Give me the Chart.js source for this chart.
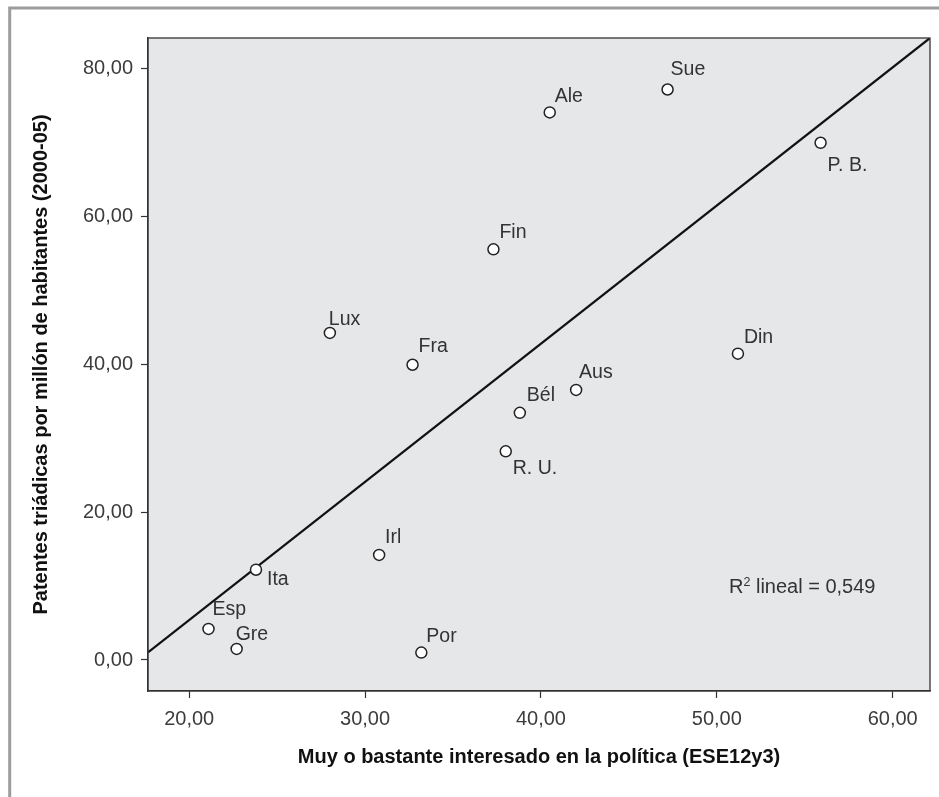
<!DOCTYPE html>
<html>
<head>
<meta charset="utf-8">
<script src="https://cdn.jsdelivr.net/npm/chart.js@4.4.1/dist/chart.umd.min.js"></script>
<style>
  html, body { margin: 0; padding: 0; background: #fff; }
</style>
</head>
<body>
<canvas id="scatterChart" width="939" height="797"></canvas>
<script>
// Data
const countries = ['Ale', 'Sue', 'P. B.', 'Fin', 'Lux', 'Fra', 'Din', 'Aus', 'Bél', 'R. U.', 'Irl', 'Por', 'Ita', 'Esp', 'Gre'];
const interest = [40.5, 47.2, 55.9, 37.3, 28.0, 32.7, 51.2, 42.0, 38.8, 38.0, 30.8, 33.2, 23.8, 21.1, 22.7];
const patents = [74.0, 77.1, 69.9, 55.5, 44.2, 39.9, 41.4, 36.5, 33.4, 28.2, 14.2, 1.0, 12.2, 4.2, 1.5];
// fitted line, ends at the edges of the plot
const fitX = [17.66, 62.12];
const fitY = [1.04, 84.06];
const xTicks = [20, 30, 40, 50, 60];
const yTicks = [0, 20, 40, 60, 80];
const rSquared = '0,549';

// label placement relative to the marker (dx, baseline dy)
const labelOffsets = {
    'Ale': [5, -10], 'Sue': [3, -15], 'P. B.': [7, 28], 'Fin': [6, -11], 'Lux': [-1, -8],
    'Fra': [6, -13], 'Din': [6, -11], 'Aus': [3, -12], 'Bél': [7, -12], 'R. U.': [7, 23],
    'Irl': [6, -12], 'Por': [5, -11], 'Ita': [11, 15], 'Esp': [4, -14], 'Gre': [-1, -9]
};

const FONT = "'Liberation Sans', Arial, Helvetica, sans-serif";
const fmt = v => Number(v).toFixed(2).replace('.', ',');

const decor = {
    id: 'decor',
    beforeDraw(chart) {
        const { ctx, chartArea: a } = chart;
        ctx.save();
        ctx.fillStyle = '#fff';
        ctx.fillRect(0, 0, chart.width, chart.height);
        // outer frame (open on right and bottom)
        ctx.strokeStyle = '#9c9c9c';
        ctx.lineWidth = 3;
        ctx.beginPath();
        ctx.moveTo(9.7, chart.height);
        ctx.lineTo(9.7, 8);
        ctx.lineTo(chart.width, 8);
        ctx.stroke();
        // plot background
        ctx.fillStyle = '#e6e7e9';
        ctx.fillRect(a.left, a.top, a.right - a.left, a.bottom - a.top);
        ctx.restore();
    },
    afterDatasetsDraw(chart) {
        const { ctx, chartArea: a } = chart;
        const pts = chart.getDatasetMeta(0).data;
        ctx.save();
        ctx.fillStyle = '#333';
        ctx.font = '19.5px ' + FONT;
        ctx.textBaseline = 'alphabetic';
        ctx.textAlign = 'left';
        countries.forEach((name, i) => {
            const off = labelOffsets[name] || [5, -10];
            ctx.fillText(name, pts[i].x + off[0], pts[i].y + off[1]);
        });
        // R squared note
        const rx = a.left + (729 - 148), ry = 593;
        ctx.font = '20px ' + FONT;
        ctx.fillText('R', rx, ry);
        const rw = ctx.measureText('R').width;
        ctx.font = '12.5px ' + FONT;
        ctx.fillText('2', rx + rw, ry - 7.5);
        const sw = ctx.measureText('2').width;
        ctx.font = '20px ' + FONT;
        ctx.fillText(' lineal = ' + rSquared, rx + rw + sw, ry);
        // plot border
        ctx.strokeStyle = '#333';
        ctx.lineWidth = 1.3;
        ctx.strokeRect(a.left, a.top, a.right - a.left, a.bottom - a.top);
        ctx.restore();
    }
};

const ctx = document.getElementById('scatterChart').getContext('2d');
const scatterChart = new Chart(ctx, {
    type: 'scatter',
    data: {
        datasets: [{
            label: 'Países',
            data: interest.map((x, i) => ({ x: x, y: patents[i] })),
            pointRadius: 5.5,
            pointBorderWidth: 1.5,
            pointBorderColor: '#222',
            pointBackgroundColor: '#fff',
            order: 1
        }, {
            type: 'line',
            label: 'Ajuste lineal',
            data: fitX.map((x, i) => ({ x: x, y: fitY[i] })),
            borderColor: '#111',
            borderWidth: 2.2,
            pointRadius: 0,
            fill: false,
            order: 2
        }]
    },
    options: {
        responsive: false,
        animation: false,
        layout: { padding: { top: 38, right: 9, left: 0, bottom: 0 } },
        scales: {
            x: {
                type: 'linear',
                min: fitX[0],
                max: fitX[1],
                afterFit: s => { s.height = 106; },
                afterBuildTicks: s => { s.ticks = xTicks.map(v => ({ value: v })); },
                grid: { drawOnChartArea: false, drawTicks: true, tickLength: 7, tickColor: '#333', tickWidth: 1.2 },
                border: { display: true, color: '#333', width: 1.3 },
                ticks: { padding: 9, color: '#3c3c3c', font: { size: 20, family: FONT }, callback: fmt, maxRotation: 0 },
                title: {
                    display: true,
                    text: 'Muy o bastante interesado en la política (ESE12y3)',
                    color: '#111',
                    font: { size: 20, weight: 'bold', family: FONT },
                    padding: { top: 0, bottom: 28 }
                }
            },
            y: {
                type: 'linear',
                min: -4.19,
                max: 84.06,
                afterFit: s => { s.width = 148; },
                afterBuildTicks: s => { s.ticks = yTicks.map(v => ({ value: v })); },
                grid: { drawOnChartArea: false, drawTicks: true, tickLength: 7, tickColor: '#333', tickWidth: 1.2 },
                border: { display: true, color: '#333', width: 1.3 },
                ticks: { padding: 8, color: '#3c3c3c', font: { size: 20, family: FONT }, callback: fmt },
                title: {
                    display: true,
                    text: 'Patentes triádicas por millón de habitantes (2000-05)',
                    color: '#111',
                    font: { size: 20, weight: 'bold', family: FONT },
                    padding: { top: 29, bottom: 0 }
                }
            }
        },
        plugins: {
            legend: { display: false },
            tooltip: { enabled: false }
        }
    },
    plugins: [decor]
});
</script>
</body>
</html>
